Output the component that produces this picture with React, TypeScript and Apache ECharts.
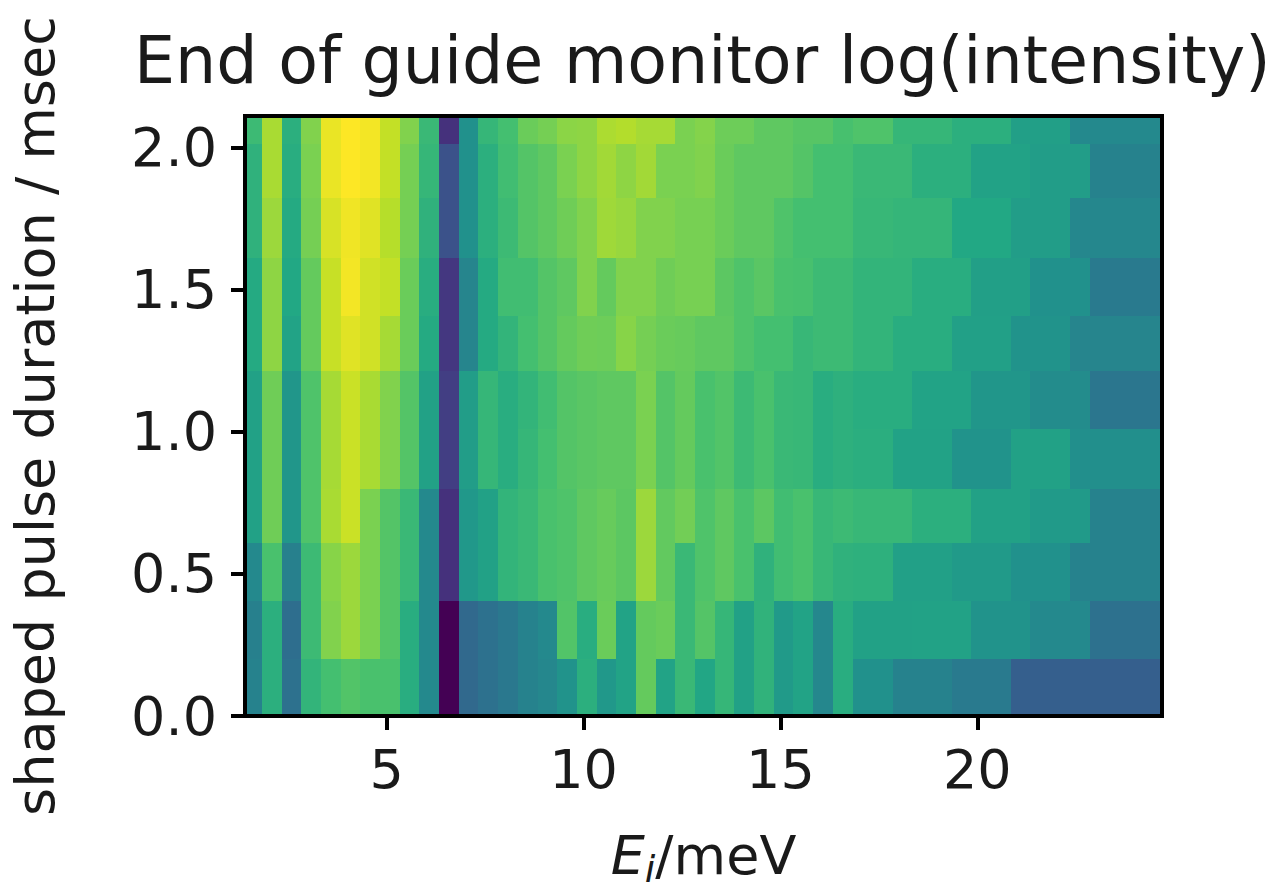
import React, { useEffect, useRef } from "react";
import * as echarts from "echarts";

const TITLE = "End of guide monitor log(intensity)";
const Y_LABEL = "shaped pulse duration / msec";
const FONT = "DejaVu Sans";

const xTicks = [5, 10, 15, 20];
const yTicks = [0, 0.5, 1.0, 1.5, 2.0];

const xEdges = [
  1.4, 1.83, 2.33, 2.83, 3.33, 3.83, 4.33, 4.83, 5.33, 5.83, 6.33, 6.83, 7.33, 7.83, 8.33, 8.83,
  9.33, 9.83, 10.33, 10.83, 11.33, 11.83, 12.33, 12.83, 13.33, 13.83, 14.33, 14.83, 15.33, 15.83,
  16.33, 16.83, 17.85, 18.35, 19.35, 19.85, 20.85, 21.35, 22.35, 22.85, 24.69,
];
const yEdges = [0, 0.2, 0.405, 0.61, 0.8, 1.01, 1.215, 1.405, 1.61, 1.82, 2.01, 2.11];

// log intensity, normalised to 0..1, rows listed from bottom to top
const row0 = [.44,.63,.37,.65,.70,.725,.71,.71,.62,.47,0,.34,.37,.40,.44,.46,.51,.63,.53,.58,.76,.58,.67,.59,.66,.57,.645,.54,.58,.46,.62,.50,.44,.44,.41,.41,.30,.30,.30,.30];
const row1 = [.43,.63,.36,.68,.81,.85,.80,.73,.62,.47,0,.34,.37,.40,.44,.47,.725,.62,.77,.58,.76,.77,.67,.73,.66,.57,.645,.54,.58,.46,.62,.57,.57,.575,.575,.51,.51,.47,.47,.37];
const row2 = [.47,.71,.43,.68,.82,.85,.80,.73,.67,.47,.14,.53,.57,.65,.67,.71,.72,.75,.765,.745,.85,.755,.67,.72,.75,.71,.64,.69,.71,.665,.64,.635,.565,.565,.54,.54,.50,.50,.44,.44];
const row3 = [.57,.78,.52,.72,.87,.92,.80,.73,.67,.47,.14,.53,.57,.65,.67,.71,.72,.75,.765,.745,.85,.755,.785,.72,.75,.71,.745,.69,.71,.665,.68,.665,.665,.63,.63,.57,.57,.54,.54,.44];
const row4 = [.57,.78,.52,.72,.865,.92,.87,.81,.73,.57,.18,.55,.66,.62,.66,.70,.73,.74,.75,.75,.80,.73,.76,.71,.725,.68,.71,.67,.665,.62,.635,.625,.575,.575,.51,.51,.57,.57,.49,.49];
const row5 = [.57,.78,.52,.72,.865,.92,.87,.81,.73,.57,.18,.55,.66,.62,.65,.69,.73,.74,.75,.75,.80,.73,.76,.71,.725,.68,.71,.67,.665,.62,.635,.62,.62,.58,.58,.52,.52,.48,.48,.39];
const row6 = [.61,.83,.58,.76,.915,.955,.93,.865,.77,.61,.16,.45,.61,.65,.70,.73,.76,.78,.775,.82,.79,.77,.765,.75,.75,.72,.70,.70,.665,.68,.68,.65,.62,.62,.565,.565,.51,.51,.45,.45];
const row7 = [.61,.83,.60,.76,.915,.985,.93,.91,.77,.62,.16,.45,.61,.69,.69,.73,.75,.81,.76,.81,.81,.78,.795,.795,.745,.72,.74,.71,.705,.68,.68,.65,.65,.62,.62,.56,.56,.50,.50,.41];
const row8 = [.64,.85,.61,.79,.94,.98,.955,.89,.79,.64,.25,.5,.63,.68,.73,.75,.78,.81,.855,.845,.81,.81,.795,.795,.77,.75,.75,.72,.70,.70,.70,.665,.655,.655,.60,.60,.55,.55,.46,.46];
const row9 = [.64,.87,.62,.80,.97,1,.985,.91,.79,.66,.25,.5,.63,.69,.73,.75,.80,.83,.86,.83,.86,.80,.80,.81,.77,.75,.75,.75,.73,.70,.70,.67,.67,.63,.63,.575,.575,.55,.55,.44];
const row10 = [.68,.87,.63,.81,.97,1,.985,.91,.81,.67,.14,.5,.66,.7,.77,.79,.825,.83,.875,.885,.865,.865,.80,.815,.775,.775,.75,.75,.735,.735,.705,.72,.66,.66,.63,.63,.56,.56,.47,.47];
const rows = [row0, row1, row2, row3, row4, row5, row6, row7, row8, row9, row10];

const viridis = ["#440154", "#482475", "#414487", "#355f8d", "#2a788e", "#21918c", "#22a884", "#44bf70", "#7ad151", "#bddf26", "#fde725"];

const cells: number[][] = [];
rows.forEach((row, r) =>
  row.forEach((v, c) => cells.push([xEdges[c], xEdges[c + 1], yEdges[r], yEdges[r + 1], v]))
);

const AX_LINE = { show: true, onZero: false, lineStyle: { color: "#000", width: 4, cap: "square" } };

export default function App() {
  const ref = useRef<HTMLDivElement>(null);
  useEffect(() => {
    document.body.style.margin = "0";
    const chart = echarts.init(ref.current!, null, { renderer: "svg" });
    chart.setOption({
      animation: false,
      backgroundColor: "#fff",
      textStyle: { fontFamily: FONT },
      title: {
        text: TITLE,
        left: 129,
        top: 23,
        textStyle: { fontFamily: FONT, fontSize: 65, fontWeight: "normal", color: "#1a1a1a" },
      },
      grid: { left: 243, top: 116, width: 919, height: 609, containLabel: false },
      visualMap: {
        show: false,
        type: "continuous",
        min: 0,
        max: 1,
        dimension: 4,
        seriesIndex: 0,
        inRange: { color: viridis },
      },
      xAxis: [
        {
          type: "value",
          min: xEdges[0],
          max: xEdges[xEdges.length - 1],
          position: "bottom",
          z: 5,
          splitLine: { show: false },
          axisLine: AX_LINE,
          axisTick: { show: true, length: 14, customValues: xTicks, lineStyle: { color: "#000", width: 4 } },
          axisLabel: { customValues: xTicks, margin: 26, fontFamily: FONT, fontSize: 54, color: "#1a1a1a", formatter: (v: number) => String(v) },
          nameLocation: "middle",
          name: "{e|E}{s|i}{n|/meV}",
          nameGap: 112,
          nameTextStyle: {
            rich: {
              e: { fontFamily: FONT, fontSize: 54, fontStyle: "italic", color: "#1a1a1a", verticalAlign: "top", lineHeight: 60 },
              s: { fontFamily: FONT, fontSize: 38, fontStyle: "italic", color: "#1a1a1a", verticalAlign: "bottom", lineHeight: 60 },
              n: { fontFamily: FONT, fontSize: 54, color: "#1a1a1a", verticalAlign: "top", lineHeight: 60 },
            },
          },
        },
        {
          type: "value",
          min: xEdges[0],
          max: xEdges[xEdges.length - 1],
          position: "top",
          z: 5,
          splitLine: { show: false },
          axisLine: AX_LINE,
          axisTick: { show: false },
          axisLabel: { show: false },
        },
      ],
      yAxis: [
        {
          type: "value",
          min: yEdges[0],
          max: yEdges[yEdges.length - 1],
          position: "left",
          z: 5,
          splitLine: { show: false },
          axisLine: AX_LINE,
          axisTick: { show: true, length: 14, customValues: yTicks, lineStyle: { color: "#000", width: 4 } },
          axisLabel: { customValues: yTicks, margin: 28, fontFamily: FONT, fontSize: 54, color: "#1a1a1a", formatter: (v: number) => v.toFixed(1) },
          name: Y_LABEL,
          nameLocation: "middle",
          nameGap: 183,
          nameTextStyle: { fontFamily: FONT, fontSize: 54, color: "#1a1a1a" },
        },
        {
          type: "value",
          min: yEdges[0],
          max: yEdges[yEdges.length - 1],
          position: "right",
          z: 5,
          splitLine: { show: false },
          axisLine: AX_LINE,
          axisTick: { show: false },
          axisLabel: { show: false },
        },
      ],
      series: [
        {
          type: "custom",
          clip: false,
          xAxisIndex: 0,
          yAxisIndex: 0,
          z: 2,
          data: cells,
          encode: { x: [0, 1], y: [2, 3] },
          renderItem: (_p: any, api: any) => {
            const a = api.coord([api.value(0), api.value(2)]);
            const b = api.coord([api.value(1), api.value(3)]);
            const x0 = Math.round(a[0]);
            const x1 = Math.round(b[0]);
            const y0 = Math.round(a[1]);
            const y1 = Math.round(b[1]);
            return {
              type: "rect",
              shape: { x: x0, y: y1, width: x1 - x0, height: y0 - y1 },
              style: { fill: api.visual("color") },
            };
          },
        },
      ],
    });
    return () => chart.dispose();
  }, []);
  return <div ref={ref} style={{ position: "fixed", left: 0, top: 0, width: 1285, height: 893 }} />;
}
